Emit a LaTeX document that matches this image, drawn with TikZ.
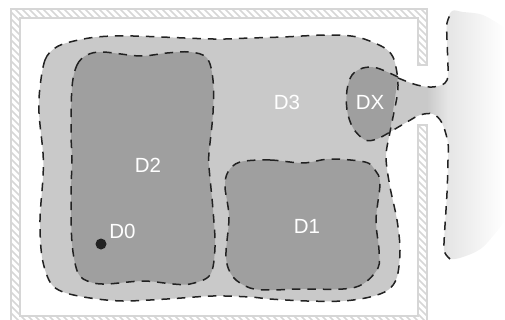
\documentclass[tikz,border=0pt]{standalone}
\usepackage{fontspec}
\setmainfont{Liberation Sans}
\definecolor{wallc}{HTML}{D6D6D6}
\definecolor{lightd}{HTML}{C9C9C9}
\definecolor{darkd}{HTML}{9F9F9F}
\definecolor{dashc}{HTML}{222222}
\pgfdeclarehorizontalshading{chan}{100bp}{color(0bp)=(lightd);color(25bp)=(lightd);color(41bp)=(lightd);color(50bp)=(black!10);color(75bp)=(white);color(100bp)=(white)}
\tikzset{
 x=1pt,y=-1pt,
 bound/.style={draw=dashc,line width=1.5pt,dash pattern=on 8.5pt off 7pt},
 lab/.style={text=white,font=\fontsize{20.5}{20.5}\selectfont,inner sep=0pt},
 hatchline/.style={draw=wallc,line width=1.5pt},
}
\newcommand{\wallpath}{(427,65) -- (427,9) -- (11,9) -- (11,325) -- (427,325) -- (427,125) -- (418,125) -- (418,316) -- (20,316) -- (20,18) -- (418,18) -- (418,65) -- cycle}
\newcommand{\dthree}{plot[smooth cycle,tension=0.55] coordinates{(40,87)(45,60)(55,48)(70,42)(97,37)(133,36)(213,39)(250,38)(283,37)(327,35)(357,37)(383,47)(393,57)(397,73)(398,85)(397,97)(390,132)(386,157)(390,187)(397,220)(400,250)(397,277)(388,290)(370,297)(343,301)(307,301)(270,299)(250,297)(213,296)(167,299)(123,301)(90,298)(63,292)(50,282)(42,257)(40,220)(43,177)(43,153)(39,113)}}
\newcommand{\dtwo}{plot[smooth cycle,tension=0.55] coordinates{(72,87)(77,65)(87,55)(103,52)(140,56)(167,53)(190,52)(207,58)(213,80)(213,113)(209,153)(209,167)(213,210)(215,247)(210,275)(190,284)(173,284)(143,281)(107,284)(90,282)(78,273)(72,243)(71,193)(72,160)(71,133)}}
\newcommand{\done}{plot[smooth cycle,tension=0.55] coordinates{(240,162)(270,160)(303,163)(330,159)(365,162)(375,170)(380,183)(376,220)(379,250)(378,268)(363,284)(343,289)(300,289)(270,290)(250,288)(233,277)(226,257)(229,217)(225,187)(228,172)}}
\newcommand{\dxtop}{plot[smooth,tension=0.55] coordinates{(398,77)(377,68)(363,68)(352,75)(347,90)(347,110)(353,128)(365,140)(377,139)(390,132)}}
\newcommand{\chantop}{plot[smooth,tension=0.55] coordinates{(398,78)(417,85)(433,87)(445,83)(448,73)(447,40)(447,23)(452,11)}}
\newcommand{\chanbot}{plot[smooth,tension=0.55] coordinates{(450,259)(445,253)(444,243)(447,193)(448,160)(448,143)(442,123)(433,114)(420,115)(407,122)(390,132)}}
\begin{document}
\begin{tikzpicture}
\useasboundingbox (0,0) rectangle (505,320);
% wall
\begin{scope}
 \clip (0,0) rectangle (505,320);
 \begin{scope}
  \clip \wallpath;
  \foreach \k in {-330,-323,...,440}{
   \draw[hatchline] (\k,0) -- ++(340,340);
  }
 \end{scope}
 \draw[wallc,line width=1.4pt] \wallpath;
\end{scope}
% channel and reservoir
\begin{scope}
 \clip plot[smooth,tension=0.55] coordinates{(390,132)(407,122)(420,115)(433,114)(442,123)(448,143)(448,160)(447,193)(444,243)(445,253)(450,259)(463,257)(483,247)(505,221)}
  -- (505,28) -- plot[smooth,tension=0.55] coordinates{(505,28)(483,15)(463,12)(452,11)(447,23)(447,40)(448,73)(445,83)(433,87)(417,85)(398,78)} -- cycle;
 \shade[shading=chan] (390,0) rectangle (505,320);
\end{scope}
% regions
\fill[lightd] \dthree;
\fill[darkd] \dxtop -- cycle;
\fill[darkd] \dtwo;
\fill[darkd] \done;
% boundaries
\draw[bound] \dthree;
\draw[bound] \dtwo;
\draw[bound] \done;
\draw[bound] \dxtop;
\draw[bound] \chantop;
\draw[bound] \chanbot;
% marker
\fill[dashc] (101,244) circle (5.5);
% labels
\node[lab] (d3) at (287,102) {D3};
\node[lab] (dx) at (370,102) {DX};
\node[lab] (d2) at (148,165) {D2};
\node[lab] (d0) at (122.5,231) {D0};
\node[lab] (d1) at (307,226) {D1};
\end{tikzpicture}
\end{document}
